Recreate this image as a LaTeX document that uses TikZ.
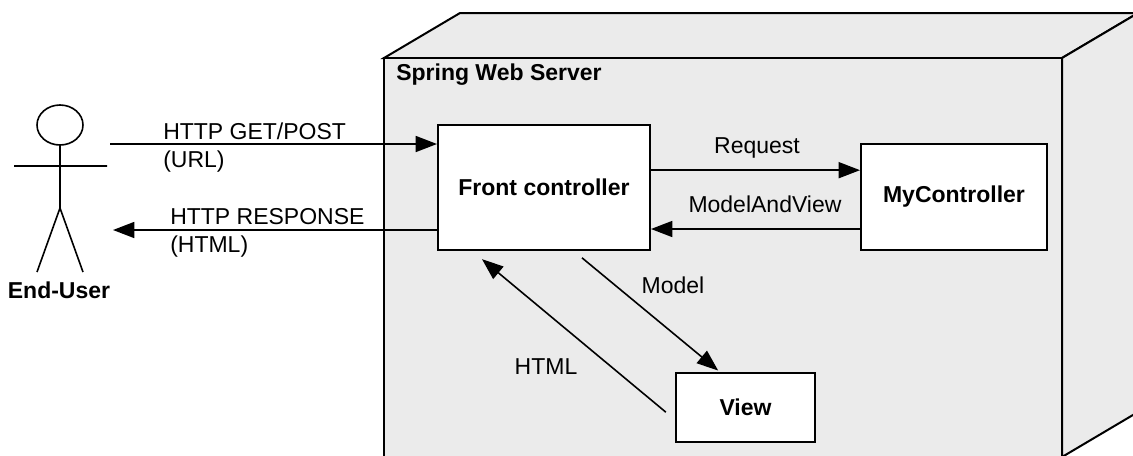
\documentclass[tikz,border=0pt]{standalone}
\usepackage{fontspec}
\setmainfont{Liberation Sans}
\usetikzlibrary{arrows.meta,calc,positioning}

\definecolor{servergray}{gray}{0.92}
\newcommand{\diagfont}{\fontsize{17.25}{21}\selectfont}
\tikzset{
  cube/.style={draw, fill=servergray, line width=1.5pt, line join=miter},
  compbox/.style={draw, fill=white, line width=1.5pt, inner sep=0pt, font=\diagfont\bfseries},
  arr/.style={-{Triangle[length=16pt,width=12pt]}, line width=1.2pt},
  lbl/.style={inner sep=0pt}
}

\begin{document}
\begin{tikzpicture}[x=0.75pt, y=-0.75pt, font=\diagfont]
  \useasboundingbox (0,0) rectangle (1133,455);

  % server node (cube)
  \draw[cube] (384,58) -- (460,13) -- (1138,13) -- (1062,58) -- cycle;
  \draw[cube] (1062,58) -- (1138,13) -- (1138,412) -- (1062,457) -- cycle;
  \draw[cube] (384,58) rectangle (1062,457);
  \node[lbl, anchor=base west, font=\diagfont\bfseries] (srvlabel) at (396,80) {Spring Web Server};

  % end user
  \draw[line width=1.2pt] (60,125) ellipse [x radius=23, y radius=20];
  \draw[line width=1.2pt] (60,145) -- (60,208)
    (14,166) -- (107,166)
    (37,272) -- (60,208) -- (83,272);
  \node[lbl, anchor=base, font=\diagfont\bfseries] (user) at (59,298) {End-User};

  % components
  \node[compbox, minimum width=159pt, minimum height=94pt] (front) at (544,187.5) {Front controller};
  \node[compbox, minimum width=139.5pt, minimum height=79.5pt] (myctrl) at (954,197) {MyController};
  \node[compbox, minimum width=104pt, minimum height=52pt] (view) at (745.5,407.5) {View};

  \coordinate (getstart) at (110,144);
  \coordinate (respend) at (113,230);

  % messages
  \draw[arr] (getstart) -- (getstart -| front.west);
  \draw[arr] (respend -| front.west) -- (respend);
  \draw[arr] ([yshift=13pt]front.east) -- ([yshift=13pt]front.east -| myctrl.west);
  \draw[arr] ([yshift=-24pt]myctrl.west) -- ([yshift=-24pt]myctrl.west -| front.east);
  \draw[arr] ([xshift=28.5pt,yshift=-5pt]front.south) -- ([xshift=-20.5pt,yshift=1pt]view.north);
  \draw[arr] ([xshift=-7pt,yshift=-3.5pt]view.west) -- ([xshift=-46.5pt,yshift=-6pt]front.south);

  \node[lbl, anchor=base west, align=left] (getlbl) at (163,167) {HTTP GET/POST\\(URL)};
  \node[lbl, anchor=base west, align=left] (resplbl) at (170,252.5) {HTTP RESPONSE\\(HTML)};
  \node[lbl, anchor=base] (reqlbl) at (757,153) {Request};
  \node[lbl, anchor=base] (mavlbl) at (765,212) {ModelAndView};
  \node[lbl, anchor=base] (modellbl) at (673,293) {Model};
  \node[lbl, anchor=base] (htmllbl) at (546,374) {HTML};
\end{tikzpicture}
\end{document}
